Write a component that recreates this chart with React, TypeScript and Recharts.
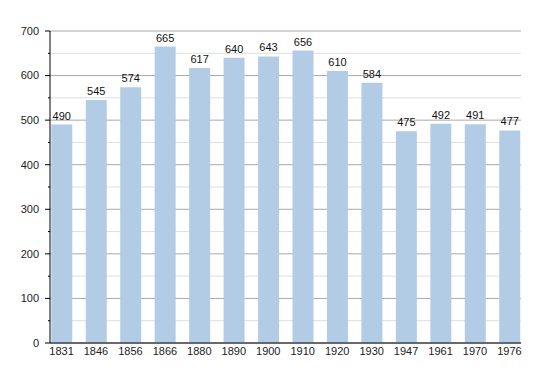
import { BarChart, Bar, XAxis, YAxis, CartesianGrid, LabelList } from "recharts";

const years = ["1831", "1846", "1856", "1866", "1880", "1890", "1900", "1910", "1920", "1930", "1947", "1961", "1970", "1976"];
const population = [490, 545, 574, 665, 617, 640, 643, 656, 610, 584, 475, 492, 491, 477];
const yTicks = [0, 50, 100, 150, 200, 250, 300, 350, 400, 450, 500, 550, 600, 650, 700];

const data = years.map((year, i) => ({ year, population: population[i] }));

const FONT = "'Liberation Sans', Arial, Helvetica, sans-serif";
const TICK_SIZE = 5;
const TICK_MARGIN = 6;

function YTick({ x, y, payload }: any) {
  const major = payload.value % 100 === 0;
  const axisX = x + TICK_SIZE + TICK_MARGIN;
  return (
    <g>
      <line x1={axisX - (major ? 5 : 2)} x2={axisX} y1={y} y2={y} stroke="#000" />
      {major && (
        <text x={x} y={y} dy="0.355em" textAnchor="end" fontSize={11} fontFamily={FONT} fill="#222">
          {payload.value}
        </text>
      )}
    </g>
  );
}

function GridLine(props: any) {
  const major = props.index % 2 === 0;
  return (
    <line
      x1={props.x1}
      x2={props.x2}
      y1={props.y1}
      y2={props.y2}
      stroke={major ? "#a8a8a8" : "#dedede"}
      strokeWidth={1}
    />
  );
}

export default function App() {
  return (
    <div style={{ position: "absolute", left: 0, top: 0, background: "#fff" }}>
      <BarChart
        width={550}
        height={373}
        data={data}
        margin={{ top: 31, right: 29, bottom: 0, left: 0 }}
      >
        <CartesianGrid vertical={false} horizontal={(p: any) => <GridLine {...p} />} />
        <XAxis
          dataKey="year"
          height={30}
          padding={{ left: -5.7, right: -5.7 }}
          tickLine={false}
          tickSize={0}
          tickMargin={4}
          axisLine={{ stroke: "#000" }}
          tick={{ fill: "#222", fontSize: 11, fontFamily: FONT }}
          interval={0}
        />
        <YAxis
          width={50}
          domain={[0, 700]}
          ticks={yTicks}
          interval={0}
          tickLine={false}
          tickSize={TICK_SIZE}
          tickMargin={TICK_MARGIN}
          axisLine={{ stroke: "#000" }}
          tick={<YTick />}
        />
        <Bar dataKey="population" fill="#b3cce6" barSize={21} isAnimationActive={false}>
          <LabelList
            dataKey="population"
            position="top"
            offset={5}
            style={{ fill: "#111", fontSize: 11, fontFamily: FONT }}
          />
        </Bar>
      </BarChart>
    </div>
  );
}
